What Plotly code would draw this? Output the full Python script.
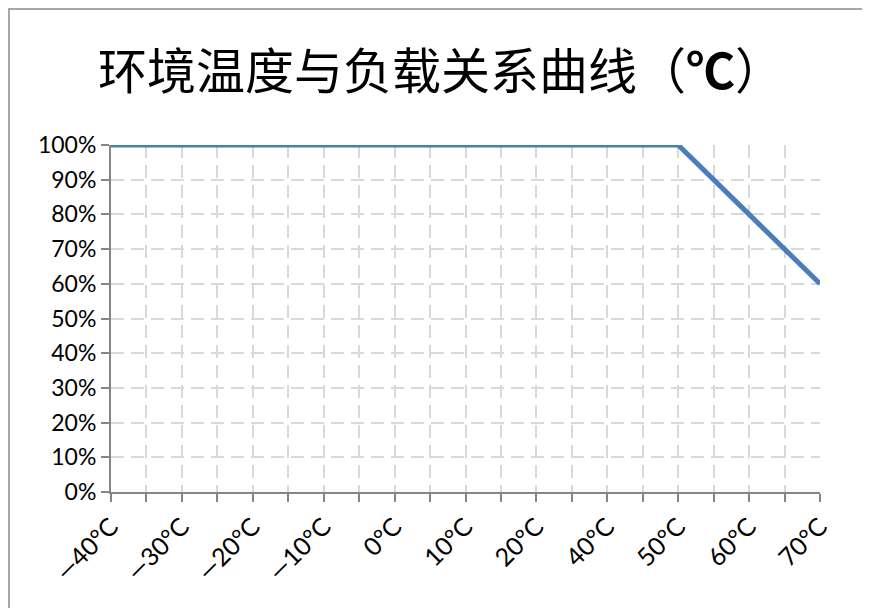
import plotly.graph_objects as go

categories = ["—40°C", "—30°C", "—20°C", "—10°C", "0°C", "10°C", "20°C", "40°C", "50°C", "60°C", "70°C"]
load = [1.00, 1.00, 1.00, 1.00, 1.00, 1.00, 1.00, 1.00, 1.00, 0.80, 0.60]
y_ticks = [0, 0.1, 0.2, 0.3, 0.4, 0.5, 0.6, 0.7, 0.8, 0.9, 1.0]

# page body has an 8px margin; figure drawn at offset (8, 8)
W, H = 862, 600
L, R, T, B = 103, 50, 137, 116

xi = list(range(len(categories)))
tickvals = [i * 0.5 for i in range(2 * len(categories) - 1)]
ticktext = [categories[int(v)] if v == int(v) else "" for v in tickvals]

fig = go.Figure()
fig.add_trace(go.Scatter(x=xi, y=load, mode="lines",
                         line=dict(color="#4a7ebb", width=5),
                         hoverinfo="skip", showlegend=False))

y_font = dict(family="Lato, Open Sans, sans-serif", size=23, color="#000000")
x_font = dict(family="Lato, Open Sans, sans-serif", size=25, color="#000000")
grid = dict(showgrid=True, gridcolor="#d9d9d9", gridwidth=1.7, griddash="13px,7px")

fig.update_layout(
    width=W, height=H,
    margin=dict(l=L, r=R, t=T, b=B, pad=0),
    paper_bgcolor="white", plot_bgcolor="white",
    title=dict(text="环境温度与负载关系曲线（<b>℃</b>）",
               font=dict(family="Noto Sans CJK SC", size=49, color="#000000"),
               x=(441 - 8) / W, xanchor="center", xref="container",
               y=1 - (72 - 8) / H, yanchor="middle", yref="container"),
    xaxis=dict(range=[0, len(categories) - 1], tickmode="array",
               tickvals=tickvals, ticktext=ticktext, tickangle=-45,
               ticks="outside", ticklen=8, tickwidth=1.5, tickcolor="#868686",
               showline=True, linecolor="#868686", linewidth=2,
               tickfont=x_font, zeroline=False, **grid),
    yaxis=dict(range=[0, 1], tickmode="array", tickvals=y_ticks,
               tickformat=".0%", ticks="outside", ticklen=8, tickwidth=1.5,
               tickcolor="#868686", showline=True, linecolor="#868686",
               linewidth=2, tickfont=y_font, zeroline=False, **grid),
)

# outer chart-area border
pw, ph = W - L - R, H - T - B
fig.add_shape(type="rect", xref="paper", yref="paper",
              x0=(1 - L) / pw, x1=(W + 20 - L) / pw,
              y0=-(H + 20 - T - ph) / ph, y1=1 + (T - 1) / ph,
              line=dict(color="#8c8c8c", width=1.5), layer="below")

fig.write_html("out.html")
